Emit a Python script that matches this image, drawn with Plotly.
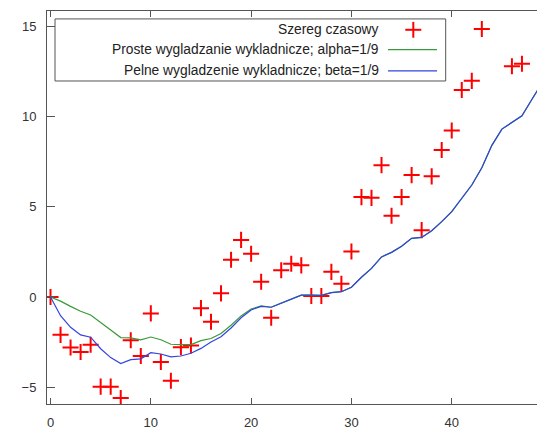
import plotly.graph_objects as go

# ---- data ----
pts_x = list(range(0, 44)) + [46, 47]
pts_y = [0.0, -2.1, -2.8, -3.05, -2.65, -4.97, -4.97, -5.6, -2.4, -3.27,
         -0.91, -3.6, -4.64, -2.78, -2.69, -0.62, -1.37, 0.2, 2.06, 3.16,
         2.39, 0.84, -1.15, 1.48, 1.84, 1.75, 0.05, 0.05, 1.39, 0.73,
         2.52, 5.53, 5.49, 7.3, 4.5, 5.53, 6.75, 3.7, 6.68, 8.14,
         9.22, 11.46, 11.97, 14.84, 12.78, 12.92]

line_x = list(range(0, 50))
simple_y = [0.0, -0.23, -0.52, -0.79, -1.0, -1.44, -1.83, -2.25, -2.27, -2.38,
            -2.22, -2.37, -2.62, -2.64, -2.64, -2.42, -2.30, -2.02, -1.57, -1.05,
            -0.67, -0.50, -0.57, -0.34, -0.10, 0.10, 0.10, 0.09, 0.24, 0.29,
            0.54, 1.09, 1.58, 2.22, 2.47, 2.81, 3.25, 3.30, 3.67, 4.17,
            4.73, 5.48, 6.20, 7.16, 8.4, 9.3, 9.68, 10.04, 10.95, 11.85]
full_y = [0.0, -1.04, -1.68, -2.1, -2.23, -2.87, -3.36, -3.69, -3.47, -3.43,
          -3.09, -3.16, -3.32, -3.27, -3.12, -2.85, -2.5, -2.2, -1.72, -1.15,
          -0.72, -0.52, -0.57, -0.34, -0.10, 0.10, 0.10, 0.09, 0.24, 0.29,
          0.54, 1.09, 1.58, 2.22, 2.47, 2.81, 3.25, 3.30, 3.67, 4.17,
          4.73, 5.48, 6.20, 7.16, 8.4, 9.3, 9.68, 10.04, 10.95, 11.85]

names = ["Szereg czasowy",
         "Proste wygladzanie wykladnicze; alpha=1/9",
         "Pelne wygladzenie wykladnicze; beta=1/9"]
x_ticks = [0, 10, 20, 30, 40]
y_ticks = [-5, 0, 5, 10, 15]

RED = "#ff0000"
GREEN = "#3a9a3a"
BLUE = "#3344dd"
AXIS = "#555555"
TXT = "#222222"

fig = go.Figure()
fig.add_trace(go.Scatter(x=pts_x, y=pts_y, mode="markers", name=names[0],
                         marker=dict(symbol="cross-thin", size=11.5,
                                     line=dict(color=RED, width=2), color=RED)))
fig.add_trace(go.Scatter(x=line_x, y=simple_y, mode="lines", name=names[1],
                         line=dict(color=GREEN, width=1.2)))
fig.add_trace(go.Scatter(x=line_x, y=full_y, mode="lines", name=names[2],
                         line=dict(color=BLUE, width=1.2)))

L, R, T, B = 47, 0, 11, 22
W, H = 537, 430
pw, ph = W - L - R, H - T - B


def px(x):
    return (x - L) / pw


def py(y):
    return (H - B - y) / ph


shapes = []
annotations = []
# legend box
shapes.append(dict(type="rect", xref="paper", yref="paper",
                   x0=px(55), x1=px(445.7), y0=py(81.7), y1=py(19),
                   line=dict(color=AXIS, width=1), fillcolor="white", layer="above"))
rows = [30, 50, 71.5]
for i, yy in enumerate(rows):
    annotations.append(dict(xref="paper", yref="paper", x=px(381), y=py(yy),
                            xanchor="right", yanchor="middle", showarrow=False,
                            text=names[i], font=dict(size=13.8, color=TXT,
                                                     family="Liberation Sans, Arial")))
# legend samples
cx, cy = 413.3, rows[0]
shapes.append(dict(type="line", xref="paper", yref="paper", x0=px(cx - 8), x1=px(cx + 8),
                   y0=py(cy), y1=py(cy), line=dict(color=RED, width=2), layer="above"))
shapes.append(dict(type="line", xref="paper", yref="paper", x0=px(cx), x1=px(cx),
                   y0=py(cy - 8), y1=py(cy + 8), line=dict(color=RED, width=2), layer="above"))
shapes.append(dict(type="line", xref="paper", yref="paper", x0=px(388), x1=px(437),
                   y0=py(rows[1]), y1=py(rows[1]), line=dict(color=GREEN, width=1.2), layer="above"))
shapes.append(dict(type="line", xref="paper", yref="paper", x0=px(388), x1=px(437),
                   y0=py(rows[2]), y1=py(rows[2]), line=dict(color=BLUE, width=1.2), layer="above"))

fig.update_layout(
    width=W, height=H, margin=dict(l=L, r=R, t=T, b=B, pad=0),
    paper_bgcolor="white", plot_bgcolor="white", showlegend=False,
    font=dict(family="Liberation Sans, Arial", size=12, color="#333333"),
    shapes=shapes, annotations=annotations,
    xaxis=dict(range=[-0.35, 48.5], tickvals=x_ticks, ticks="inside", ticklen=6,
               tickcolor=AXIS, showline=True, linecolor=AXIS, linewidth=1,
               mirror="ticks", showgrid=False, zeroline=False,
               ticklabelstandoff=6, tickfont=dict(size=13)),
    yaxis=dict(range=[-5.93, 15.84], tickvals=y_ticks, ticks="inside", ticklen=8,
               tickcolor=AXIS, showline=True, linecolor=AXIS, linewidth=1,
               mirror=False, showgrid=False, zeroline=False,
               ticklabelstandoff=7, tickfont=dict(size=13)),
)

fig.write_html("out.html")
